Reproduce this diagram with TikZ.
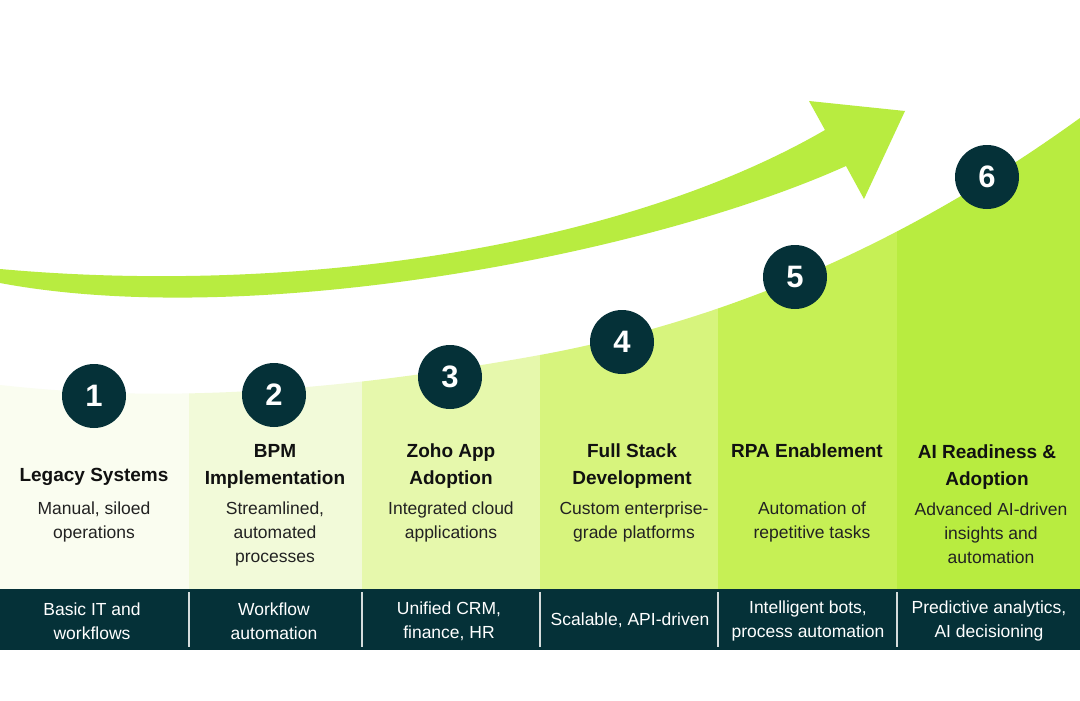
\documentclass[tikz,border=0pt]{standalone}
\usepackage{fontspec}
\setmainfont{Liberation Sans}
\definecolor{lime}{HTML}{B8EC40}
\definecolor{colA}{HTML}{FAFDF0}
\definecolor{colB}{HTML}{F2FAD9}
\definecolor{colC}{HTML}{E6F8AC}
\definecolor{colD}{HTML}{D7F47D}
\definecolor{colE}{HTML}{C6F055}
\definecolor{colF}{HTML}{B8EC40}
\definecolor{dark}{HTML}{053138}
\definecolor{divider}{HTML}{D5DCDC}
\definecolor{ink}{HTML}{111111}
\definecolor{bodyink}{HTML}{222222}
\tikzset{
  num/.style={circle, fill=dark, minimum size=64pt, inner sep=0pt, text=white, font=\fontsize{31}{31}\selectfont\bfseries},
  ttl/.style={anchor=north, inner sep=0pt, align=center, text=ink, font=\fontsize{19}{27}\selectfont\bfseries},
  bdy/.style={anchor=north, inner sep=0pt, align=center, text=bodyink, font=\fontsize{17.5}{24}\selectfont},
  bar/.style={anchor=center, inner sep=0pt, align=center, text=white, font=\fontsize{17.5}{24}\selectfont},
  div/.style={draw=divider, line width=1.6pt},
}
\begin{document}
\begin{tikzpicture}[x=1pt,y=-1pt]
\useasboundingbox (0,0) rectangle (1080,701);
\fill[white] (0,0) rectangle (1080,701);
% column fills under the rising curve
\def\topcurve{(0,385) .. controls (160,403) and (330,393) .. (540,355) .. controls (720,322) and (900,248) .. (1080,118)}
\foreach \xa/\xb/\cc in {0/189/colA, 189/362/colB, 362/540/colC, 540/718/colD, 718/897/colE, 897/1080/colF}{
  \begin{scope}
    \clip (\xa,0) rectangle (\xb,592);
    \fill[\cc] \topcurve -- (1080,592) -- (0,592) -- cycle;
  \end{scope}
}
% curved arrow
\fill[lime] (0,269) .. controls (300,296) and (625,246) .. (825,130)
  -- (809,101) -- (905,111) -- (864,199) -- (846,166)
  .. controls (646,256) and (250,330) .. (0,283) -- cycle;
% bottom bar
\fill[dark] (0,589) rectangle (1080,650);
\coordinate (d1a) at (189,592); \coordinate (d1b) at (189,647);
\coordinate (d2a) at (362,592); \coordinate (d2b) at (362,647);
\coordinate (d3a) at (540,592); \coordinate (d3b) at (540,647);
\coordinate (d4a) at (718,592); \coordinate (d4b) at (718,647);
\coordinate (d5a) at (897,592); \coordinate (d5b) at (897,647);
\foreach \i in {1,...,5}{ \draw[div] (d\i a) -- (d\i b); }
% numbered circles
\node[num] (c1) at (94,396) {1};
\node[num] (c2) at (274,395) {2};
\node[num] (c3) at (450,377) {3};
\node[num] (c4) at (622,342) {4};
\node[num] (c5) at (795,277) {5};
\node[num] (c6) at (987,177) {6};
% titles
\node[ttl] (t1) at (94,468) {Legacy Systems};
\node[ttl] (t2) at (275,444) {BPM\\Implementation};
\node[ttl] (t3) at (451,444) {Zoho App\\Adoption};
\node[ttl] (t4) at (632,444) {Full Stack\\Development};
\node[ttl] (t5) at (807,444) {RPA Enablement};
\node[ttl] (t6) at (987,445) {AI Readiness \&\\Adoption};
% descriptions
\node[bdy] (b1) at (94,502) {Manual, siloed\\operations};
\node[bdy] (b2) at (275,502) {Streamlined,\\automated\\processes};
\node[bdy] (b3) at (451,502) {Integrated cloud\\applications};
\node[bdy] (b4) at (634,502) {Custom enterprise-\\grade platforms};
\node[bdy] (b5) at (812,502) {Automation of\\repetitive tasks};
\node[bdy] (b6) at (991,503) {Advanced AI-driven\\insights and\\automation};
% bar texts
\node[bar] (f1) at (92,621) {Basic IT and\\workflows};
\node[bar] (f2) at (274,621) {Workflow\\automation};
\node[bar] (f3) at (449,621) {Unified CRM,\\finance, HR};
\node[bar] (f4) at (630,620) {Scalable, API-driven};
\node[bar] (f5) at (808,621) {Intelligent bots,\\process automation};
\node[bar] (f6) at (989,621) {Predictive analytics,\\AI decisioning};
\end{tikzpicture}
\end{document}
